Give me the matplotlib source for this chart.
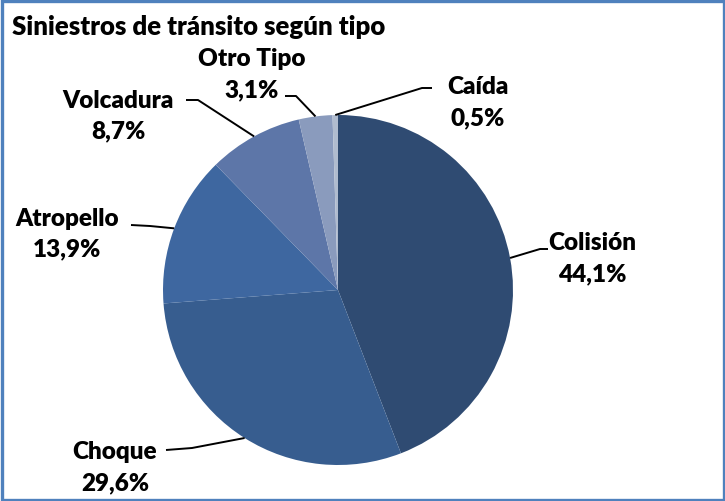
import numpy as np
import matplotlib
matplotlib.use("Agg")
import matplotlib.pyplot as plt
from matplotlib.patches import Rectangle

plt.rcParams['font.family'] = ['Lato', 'DejaVu Sans']

# data
tipos = ['Colisión', 'Choque', 'Atropello', 'Volcadura', 'Otro Tipo', 'Caída']
porcentajes = [44.1, 29.6, 13.9, 8.7, 3.1, 0.5]
colores = ['#2f4b72', '#375d8f', '#3e67a0', '#5d76a8', '#8a9bbd', '#b0bccf']

# label layout in pixels (x, y from top): text centre, elbow point
label_pos = [(592, 259), (115, 468), (67, 234), (118, 116), (252, 75), (478, 103)]
elbow_start = [(548, 250), (166, 451), (131, 226), (186, 101), (285, 97), (432, 89)]
elbow_mid = [(540, 250), (192, 449), (150, 227), (198, 101), (296, 97), (422, 89)]

W, H = 725, 502
fig = plt.figure(figsize=(W / 100, H / 100), dpi=100)
ax = fig.add_axes([0, 0, 1, 1])
ax.set_xlim(0, W)
ax.set_ylim(0, H)
ax.set_aspect('equal')
ax.axis('off')

cx, cy, r = 338, H - 291, 175
wedges, _ = ax.pie(porcentajes, colors=colores, startangle=90, counterclock=False,
                   center=(cx, cy), radius=r, normalize=True,
                   wedgeprops=dict(linewidth=0))
ax.set_xlim(0, W)
ax.set_ylim(0, H)

total = sum(porcentajes)
acum = np.cumsum([0] + porcentajes[:-1])
for i, (t, v) in enumerate(zip(tipos, porcentajes)):
    ang = np.deg2rad(90 - 360 * (acum[i] + v / 2) / total)
    ex, ey = cx + r * np.cos(ang), cy + r * np.sin(ang)
    x0, y0 = elbow_start[i]
    x1, y1 = elbow_mid[i]
    ax.plot([x0, x1, ex], [H - y0, H - y1, ey], color='black', lw=1.4,
            solid_capstyle='butt')
    lx, ly = label_pos[i]
    pct = f"{v:.1f}".replace('.', ',') + '%'
    ax.text(lx, H - ly, f"{t}\n{pct}", ha='center', va='center', fontsize=17.5,
            fontweight='heavy', linespacing=1.5)

ax.text(12, H - 27, 'Siniestros de tránsito según tipo', ha='left', va='center',
        fontsize=18.5, fontweight='heavy')

fig.patches.append(Rectangle((1.5, 1.5), W - 3, H - 3, transform=None,
                             fill=False, edgecolor='#4f81bd', linewidth=2.4))

fig.savefig('out.png', dpi=100)
